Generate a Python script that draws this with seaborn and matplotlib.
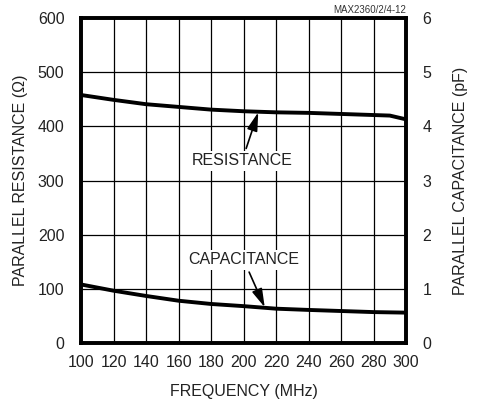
import numpy as np
import pandas as pd
import seaborn as sns
import matplotlib.pyplot as plt

freq = [100, 120, 140, 160, 180, 200, 220, 240, 260, 280, 290, 300]
resistance = [458, 449, 441, 436, 431, 428, 426, 425, 423, 421, 420, 413]
capacitance = [1.08, 0.965, 0.868, 0.78, 0.72, 0.68, 0.633, 0.61, 0.59, 0.57, 0.565, 0.56]

df = pd.DataFrame({'freq': freq, 'res': resistance, 'cap': capacitance})

sns.set_style('white')
plt.rcParams['font.family'] = ['Liberation Sans', 'DejaVu Sans']
fs = 11.5
tc = '#222222'

fig = plt.figure(figsize=(4.8, 4.03), dpi=100)
ax = fig.add_axes([0.169, 0.149, 0.677, 0.806])
ax2 = ax.twinx()

sns.lineplot(x='freq', y='res', data=df, ax=ax, color='black', linewidth=2.8)
sns.lineplot(x='freq', y='cap', data=df, ax=ax2, color='black', linewidth=2.8)

ax.set_xlim(100, 300)
ax.set_ylim(0, 600)
ax2.set_ylim(0, 6)
ax.set_xticks(np.arange(100, 301, 20))
ax.set_yticks(np.arange(0, 601, 100))
ax2.set_yticks(np.arange(0, 7, 1))
ax.grid(True, color='black', linewidth=0.9)

ax.tick_params(axis='x', length=0, labelsize=fs, colors=tc, pad=9)
ax.tick_params(axis='y', length=0, labelsize=fs, colors=tc, pad=12)
ax2.tick_params(axis='y', length=0, labelsize=fs, colors=tc, pad=12)
for a in (ax, ax2):
    for s in a.spines.values():
        s.set_linewidth(2.6)
        s.set_color('black')

ax.set_xlabel('FREQUENCY (MHz)', fontsize=fs, color=tc, labelpad=10)
ax.set_ylabel('PARALLEL RESISTANCE (Ω)', fontsize=fs, color=tc, labelpad=7)
ax2.set_ylabel('PARALLEL CAPACITANCE (pF)', fontsize=fs, color=tc, labelpad=15)

ax.annotate('RESISTANCE', xy=(209, 426), xytext=(199, 350),
            ha='center', va='top', fontsize=fs, color=tc,
            bbox=dict(boxstyle='square,pad=0.15', fc='white', ec='none'),
            arrowprops=dict(arrowstyle='-|>,head_length=0.7,head_width=0.2', color='black',
                            lw=1.2, mutation_scale=16, shrinkA=2, shrinkB=0))
ax.annotate('CAPACITANCE', xy=(213, 66), xytext=(200, 140),
            ha='center', va='bottom', fontsize=fs, color=tc,
            bbox=dict(boxstyle='square,pad=0.15', fc='white', ec='none'),
            arrowprops=dict(arrowstyle='-|>,head_length=0.7,head_width=0.2', color='black',
                            lw=1.2, mutation_scale=16, shrinkA=2, shrinkB=0))

fig.text(0.846, 0.962, 'MAX2360/2/4-12', ha='right', va='bottom', fontsize=7, color='#333333')

fig.savefig('out.png', dpi=100)
